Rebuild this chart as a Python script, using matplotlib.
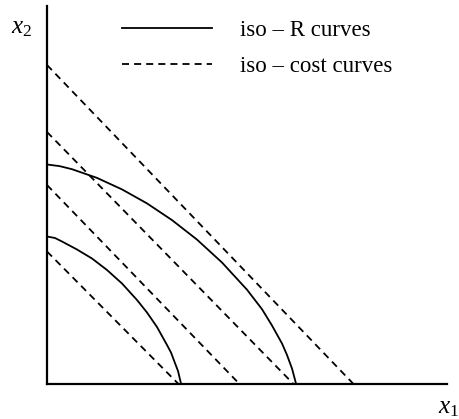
import matplotlib.pyplot as plt
import matplotlib as mpl

mpl.rcParams['font.family'] = 'Liberation Serif'
mpl.rcParams['mathtext.fontset'] = 'custom'
mpl.rcParams['mathtext.rm'] = 'Liberation Serif'
mpl.rcParams['mathtext.it'] = 'Liberation Serif:italic'

# iso-R curves (x1, x2), inner and outer
inner_x1 = [0, 8, 15, 30, 45, 60, 75, 90, 100, 110, 120, 124, 127, 131, 134]
inner_x2 = [147, 145.5, 142, 134, 125, 113.5, 100, 83.5, 71, 56.5, 38.5, 31, 23, 12.5, 0]
outer_x1 = [0, 12.5, 25, 50, 75, 100, 125, 150, 175, 200, 215, 225, 235, 240, 245, 249]
outer_x2 = [219, 217.4, 214.3, 205.6, 194.1, 180.1, 163.4, 143.9, 121.0, 93.8,
            74.3, 58, 40, 28.5, 15, 0]

# iso-cost lines: intercepts on the x2 axis and on the x1 axis
cost_x2_int = [318.5, 251.5, 198.5, 132]
cost_x1_int = [306, 246, 192, 131]

labels = ['iso – R curves', 'iso – cost curves']

fig = plt.figure(figsize=(4.59, 4.19), dpi=100)
ax = fig.add_axes([47/459, 35.5/419, 400/459, 378/419])

lw = 1.3
dash = (0, (3.9, 2.8))
hR, = ax.plot(inner_x1, inner_x2, color='black', linewidth=lw)
ax.plot(outer_x1, outer_x2, color='black', linewidth=lw)
for y0, x0 in zip(cost_x2_int, cost_x1_int):
    hC, = ax.plot([0, x0], [y0, 0], color='black', linewidth=lw, linestyle=dash)

ax.set_xlim(0, 400)
ax.set_ylim(0, 378)
ax.spines['top'].set_visible(False)
ax.spines['right'].set_visible(False)
ax.spines['left'].set_linewidth(1.6)
ax.spines['bottom'].set_linewidth(1.6)
ax.set_xticks([])
ax.set_yticks([])

fig.legend([hR, hC], labels, loc='upper left',
           bbox_to_anchor=(122/459, (419-20)/419),
           frameon=False, fontsize=16.5, borderpad=0, borderaxespad=0,
           handlelength=90/22.9, handletextpad=1.22, labelspacing=0.65)

fig.text(11/459, (419-33)/419, r'$x_2$', fontsize=18, va='baseline')
fig.text(438/459, (419-413)/419, r'$x_1$', fontsize=18, va='baseline')

fig.savefig('out.png', dpi=100)
